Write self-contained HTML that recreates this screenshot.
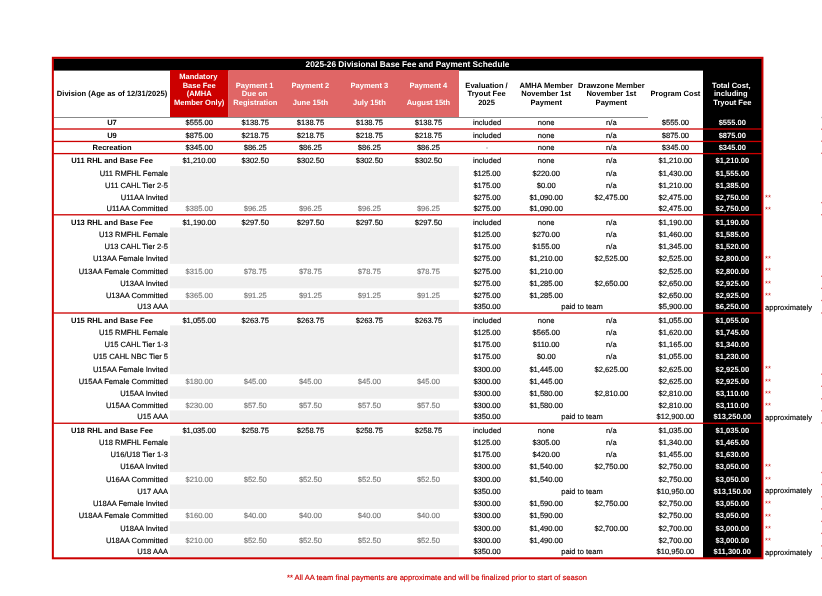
<!DOCTYPE html>
<html><head><meta charset="utf-8"><style>
html,body{margin:0;padding:0;background:#fff;}
body{width:822px;height:596px;position:relative;overflow:hidden;font-family:"Liberation Sans",sans-serif;}
.b{position:absolute;}
.t{position:absolute;white-space:nowrap;line-height:20px;height:20px;-webkit-text-stroke:0.15px currentColor;text-rendering:geometricPrecision;}
.frame{position:absolute;left:52px;top:57px;width:707px;height:498px;border:2px solid #cc0000;}
#w{position:absolute;left:0;top:0;width:822px;height:596px;will-change:transform;}
</style></head><body><div id="w">
<svg width="822" height="596" style="position:absolute;left:0;top:0">
<rect x="53" y="58.5" width="709" height="12.1" fill="#000"/>
<rect x="170" y="70" width="58.5" height="47" fill="#cc0000"/>
<rect x="228.5" y="70" width="230.5" height="47" fill="#e06666"/>
<rect x="703" y="70" width="59" height="488" fill="#000"/>
<rect x="54" y="117" width="594" height="1" fill="#888888"/>
<rect x="170" y="166.1" width="289" height="35.85" fill="#efefef"/>
<rect x="170" y="227.45" width="289" height="36.42" fill="#efefef"/>
<rect x="170" y="276.27" width="289" height="12.07" fill="#efefef"/>
<rect x="170" y="299.92" width="289" height="12.43" fill="#efefef"/>
<rect x="170" y="325.4" width="289" height="48.85" fill="#efefef"/>
<rect x="170" y="386.4" width="289" height="12.33" fill="#efefef"/>
<rect x="170" y="410.45" width="289" height="12.15" fill="#efefef"/>
<rect x="170" y="435.72" width="289" height="36.38" fill="#efefef"/>
<rect x="170" y="484.5" width="289" height="24.42" fill="#efefef"/>
<rect x="170" y="521.35" width="289" height="12.45" fill="#efefef"/>
<rect x="170" y="545.32" width="289" height="11.68" fill="#efefef"/>
<rect x="53.5" y="128.35" width="708.5" height="1.3" fill="#cc0000"/>
<rect x="53.5" y="140.8" width="708.5" height="1.3" fill="#cc0000"/>
<rect x="53.5" y="152.95" width="708.5" height="1.3" fill="#cc0000"/>
<rect x="53.5" y="214.15" width="708.5" height="1.3" fill="#cc0000"/>
<rect x="53.5" y="312.35" width="708.5" height="1.3" fill="#cc0000"/>
<rect x="53.5" y="422.6" width="708.5" height="1.3" fill="#cc0000"/>
<rect x="821" y="116.85" width="1" height="1.3" fill="#bbbbbb"/>
<rect x="821" y="128.55" width="1" height="1.3" fill="#e07070"/>
<rect x="821" y="140.55" width="1" height="1.3" fill="#e07070"/>
<rect x="821" y="152.65" width="1" height="1.3" fill="#e07070"/>
<rect x="821" y="201.95" width="1" height="1.3" fill="#e07070"/>
<rect x="821" y="214.05" width="1" height="1.3" fill="#e07070"/>
<rect x="821" y="275.65" width="1" height="1.3" fill="#e07070"/>
<rect x="821" y="287.75" width="1" height="1.3" fill="#e07070"/>
<rect x="821" y="299.85" width="1" height="1.3" fill="#e07070"/>
<rect x="821" y="312.35" width="1" height="1.3" fill="#e07070"/>
<rect x="821" y="373.55" width="1" height="1.3" fill="#e07070"/>
<rect x="821" y="385.65" width="1" height="1.3" fill="#e07070"/>
<rect x="821" y="398.15" width="1" height="1.3" fill="#e07070"/>
<rect x="821" y="410.15" width="1" height="1.3" fill="#e07070"/>
<rect x="821" y="422.25" width="1" height="1.3" fill="#e07070"/>
<rect x="821" y="471.85" width="1" height="1.3" fill="#e07070"/>
<rect x="821" y="483.85" width="1" height="1.3" fill="#e07070"/>
<rect x="821" y="496.15" width="1" height="1.3" fill="#e07070"/>
<rect x="821" y="508.25" width="1" height="1.3" fill="#e07070"/>
<rect x="821" y="520.75" width="1" height="1.3" fill="#e07070"/>
<rect x="821" y="532.75" width="1" height="1.3" fill="#e07070"/>
<rect x="821" y="545.25" width="1" height="1.3" fill="#e07070"/>
<rect x="821" y="557.55" width="1" height="1.3" fill="#e07070"/>
<rect x="52.85" y="57.8" width="709.6" height="500.5" fill="none" stroke="#cc0000" stroke-width="2"/>
</svg>
<div class="t" style="left:-188.0px;width:600px;text-align:center;top:113.23px;font-size:7.55px;font-weight:bold;color:#000;-webkit-text-stroke:0px currentColor;">U7</div>
<div class="t" style="left:-100.80000000000001px;width:600px;text-align:center;top:113.23px;font-size:7.55px;font-weight:normal;color:#000;">$555.00</div>
<div class="t" style="left:-44.75px;width:600px;text-align:center;top:113.23px;font-size:7.55px;font-weight:normal;color:#000;">$138.75</div>
<div class="t" style="left:10.449999999999989px;width:600px;text-align:center;top:113.23px;font-size:7.55px;font-weight:normal;color:#000;">$138.75</div>
<div class="t" style="left:69.39999999999998px;width:600px;text-align:center;top:113.23px;font-size:7.55px;font-weight:normal;color:#000;">$138.75</div>
<div class="t" style="left:128.45px;width:600px;text-align:center;top:113.23px;font-size:7.55px;font-weight:normal;color:#000;">$138.75</div>
<div class="t" style="left:187.05px;width:600px;text-align:center;top:113.23px;font-size:7.55px;font-weight:normal;color:#000;">included</div>
<div class="t" style="left:246.20000000000005px;width:600px;text-align:center;top:113.23px;font-size:7.55px;font-weight:normal;color:#000;">none</div>
<div class="t" style="left:311.35px;width:600px;text-align:center;top:113.23px;font-size:7.55px;font-weight:normal;color:#000;">n/a</div>
<div class="t" style="left:375.4px;width:600px;text-align:center;top:113.23px;font-size:7.55px;font-weight:normal;color:#000;">$555.00</div>
<div class="t" style="left:432.29999999999995px;width:600px;text-align:center;top:113.23px;font-size:7.55px;font-weight:bold;color:#fff;-webkit-text-stroke:0px currentColor;">$555.00</div>
<div class="t" style="left:-188.0px;width:600px;text-align:center;top:125.83px;font-size:7.55px;font-weight:bold;color:#000;-webkit-text-stroke:0px currentColor;">U9</div>
<div class="t" style="left:-100.80000000000001px;width:600px;text-align:center;top:125.83px;font-size:7.55px;font-weight:normal;color:#000;">$875.00</div>
<div class="t" style="left:-44.75px;width:600px;text-align:center;top:125.83px;font-size:7.55px;font-weight:normal;color:#000;">$218.75</div>
<div class="t" style="left:10.449999999999989px;width:600px;text-align:center;top:125.83px;font-size:7.55px;font-weight:normal;color:#000;">$218.75</div>
<div class="t" style="left:69.39999999999998px;width:600px;text-align:center;top:125.83px;font-size:7.55px;font-weight:normal;color:#000;">$218.75</div>
<div class="t" style="left:128.45px;width:600px;text-align:center;top:125.83px;font-size:7.55px;font-weight:normal;color:#000;">$218.75</div>
<div class="t" style="left:187.05px;width:600px;text-align:center;top:125.83px;font-size:7.55px;font-weight:normal;color:#000;">included</div>
<div class="t" style="left:246.20000000000005px;width:600px;text-align:center;top:125.83px;font-size:7.55px;font-weight:normal;color:#000;">none</div>
<div class="t" style="left:311.35px;width:600px;text-align:center;top:125.83px;font-size:7.55px;font-weight:normal;color:#000;">n/a</div>
<div class="t" style="left:375.4px;width:600px;text-align:center;top:125.83px;font-size:7.55px;font-weight:normal;color:#000;">$875.00</div>
<div class="t" style="left:432.29999999999995px;width:600px;text-align:center;top:125.83px;font-size:7.55px;font-weight:bold;color:#fff;-webkit-text-stroke:0px currentColor;">$875.00</div>
<div class="t" style="left:-188.0px;width:600px;text-align:center;top:137.78px;font-size:7.55px;font-weight:bold;color:#000;-webkit-text-stroke:0px currentColor;">Recreation</div>
<div class="t" style="left:-100.80000000000001px;width:600px;text-align:center;top:137.78px;font-size:7.55px;font-weight:normal;color:#000;">$345.00</div>
<div class="t" style="left:-44.75px;width:600px;text-align:center;top:137.78px;font-size:7.55px;font-weight:normal;color:#000;">$86.25</div>
<div class="t" style="left:10.449999999999989px;width:600px;text-align:center;top:137.78px;font-size:7.55px;font-weight:normal;color:#000;">$86.25</div>
<div class="t" style="left:69.39999999999998px;width:600px;text-align:center;top:137.78px;font-size:7.55px;font-weight:normal;color:#000;">$86.25</div>
<div class="t" style="left:128.45px;width:600px;text-align:center;top:137.78px;font-size:7.55px;font-weight:normal;color:#000;">$86.25</div>
<div class="t" style="left:187.05px;width:600px;text-align:center;top:137.78px;font-size:7.55px;font-weight:normal;color:#777777;">-</div>
<div class="t" style="left:246.20000000000005px;width:600px;text-align:center;top:137.78px;font-size:7.55px;font-weight:normal;color:#000;">none</div>
<div class="t" style="left:311.35px;width:600px;text-align:center;top:137.78px;font-size:7.55px;font-weight:normal;color:#000;">n/a</div>
<div class="t" style="left:375.4px;width:600px;text-align:center;top:137.78px;font-size:7.55px;font-weight:normal;color:#000;">$345.00</div>
<div class="t" style="left:432.29999999999995px;width:600px;text-align:center;top:137.78px;font-size:7.55px;font-weight:bold;color:#fff;-webkit-text-stroke:0px currentColor;">$345.00</div>
<div class="t" style="left:-188.0px;width:600px;text-align:center;top:151.18px;font-size:7.55px;font-weight:bold;color:#000;-webkit-text-stroke:0px currentColor;">U11 RHL and Base Fee</div>
<div class="t" style="left:-100.80000000000001px;width:600px;text-align:center;top:151.18px;font-size:7.55px;font-weight:normal;color:#000;">$1,210.00</div>
<div class="t" style="left:-44.75px;width:600px;text-align:center;top:151.18px;font-size:7.55px;font-weight:normal;color:#000;">$302.50</div>
<div class="t" style="left:10.449999999999989px;width:600px;text-align:center;top:151.18px;font-size:7.55px;font-weight:normal;color:#000;">$302.50</div>
<div class="t" style="left:69.39999999999998px;width:600px;text-align:center;top:151.18px;font-size:7.55px;font-weight:normal;color:#000;">$302.50</div>
<div class="t" style="left:128.45px;width:600px;text-align:center;top:151.18px;font-size:7.55px;font-weight:normal;color:#000;">$302.50</div>
<div class="t" style="left:187.05px;width:600px;text-align:center;top:151.18px;font-size:7.55px;font-weight:normal;color:#000;">included</div>
<div class="t" style="left:246.20000000000005px;width:600px;text-align:center;top:151.18px;font-size:7.55px;font-weight:normal;color:#000;">none</div>
<div class="t" style="left:311.35px;width:600px;text-align:center;top:151.18px;font-size:7.55px;font-weight:normal;color:#000;">n/a</div>
<div class="t" style="left:375.4px;width:600px;text-align:center;top:151.18px;font-size:7.55px;font-weight:normal;color:#000;">$1,210.00</div>
<div class="t" style="left:432.29999999999995px;width:600px;text-align:center;top:151.18px;font-size:7.55px;font-weight:bold;color:#fff;-webkit-text-stroke:0px currentColor;">$1,210.00</div>
<div class="t" style="left:-132px;width:300px;text-align:right;top:163.78px;font-size:7.55px;font-weight:normal;color:#000;">U11 RMFHL Female</div>
<div class="t" style="left:187.05px;width:600px;text-align:center;top:163.78px;font-size:7.55px;font-weight:normal;color:#000;">$125.00</div>
<div class="t" style="left:246.20000000000005px;width:600px;text-align:center;top:163.78px;font-size:7.55px;font-weight:normal;color:#000;">$220.00</div>
<div class="t" style="left:311.35px;width:600px;text-align:center;top:163.78px;font-size:7.55px;font-weight:normal;color:#000;">n/a</div>
<div class="t" style="left:375.4px;width:600px;text-align:center;top:163.78px;font-size:7.55px;font-weight:normal;color:#000;">$1,430.00</div>
<div class="t" style="left:432.29999999999995px;width:600px;text-align:center;top:163.78px;font-size:7.55px;font-weight:bold;color:#fff;-webkit-text-stroke:0px currentColor;">$1,555.00</div>
<div class="t" style="left:-132px;width:300px;text-align:right;top:175.78px;font-size:7.55px;font-weight:normal;color:#000;">U11 CAHL Tier 2-5</div>
<div class="t" style="left:187.05px;width:600px;text-align:center;top:175.78px;font-size:7.55px;font-weight:normal;color:#000;">$175.00</div>
<div class="t" style="left:246.20000000000005px;width:600px;text-align:center;top:175.78px;font-size:7.55px;font-weight:normal;color:#000;">$0.00</div>
<div class="t" style="left:311.35px;width:600px;text-align:center;top:175.78px;font-size:7.55px;font-weight:normal;color:#000;">n/a</div>
<div class="t" style="left:375.4px;width:600px;text-align:center;top:175.78px;font-size:7.55px;font-weight:normal;color:#000;">$1,210.00</div>
<div class="t" style="left:432.29999999999995px;width:600px;text-align:center;top:175.78px;font-size:7.55px;font-weight:bold;color:#fff;-webkit-text-stroke:0px currentColor;">$1,385.00</div>
<div class="t" style="left:-132px;width:300px;text-align:right;top:187.83px;font-size:7.55px;font-weight:normal;color:#000;">U11AA Invited</div>
<div class="t" style="left:187.05px;width:600px;text-align:center;top:187.83px;font-size:7.55px;font-weight:normal;color:#000;">$275.00</div>
<div class="t" style="left:246.20000000000005px;width:600px;text-align:center;top:187.83px;font-size:7.55px;font-weight:normal;color:#000;">$1,090.00</div>
<div class="t" style="left:311.35px;width:600px;text-align:center;top:187.83px;font-size:7.55px;font-weight:normal;color:#000;">$2,475.00</div>
<div class="t" style="left:375.4px;width:600px;text-align:center;top:187.83px;font-size:7.55px;font-weight:normal;color:#000;">$2,475.00</div>
<div class="t" style="left:432.29999999999995px;width:600px;text-align:center;top:187.83px;font-size:7.55px;font-weight:bold;color:#fff;-webkit-text-stroke:0px currentColor;">$2,750.00</div>
<div class="t" style="left:765px;top:187.58px;font-size:7.55px;font-weight:normal;color:#cc0000;-webkit-text-stroke:0;">**</div>
<div class="t" style="left:-132px;width:300px;text-align:right;top:198.83px;font-size:7.55px;font-weight:normal;color:#000;">U11AA Committed</div>
<div class="t" style="left:-100.80000000000001px;width:600px;text-align:center;top:198.83px;font-size:7.55px;font-weight:normal;color:#777777;">$385.00</div>
<div class="t" style="left:-44.75px;width:600px;text-align:center;top:198.83px;font-size:7.55px;font-weight:normal;color:#777777;">$96.25</div>
<div class="t" style="left:10.449999999999989px;width:600px;text-align:center;top:198.83px;font-size:7.55px;font-weight:normal;color:#777777;">$96.25</div>
<div class="t" style="left:69.39999999999998px;width:600px;text-align:center;top:198.83px;font-size:7.55px;font-weight:normal;color:#777777;">$96.25</div>
<div class="t" style="left:128.45px;width:600px;text-align:center;top:198.83px;font-size:7.55px;font-weight:normal;color:#777777;">$96.25</div>
<div class="t" style="left:187.05px;width:600px;text-align:center;top:198.83px;font-size:7.55px;font-weight:normal;color:#000;">$275.00</div>
<div class="t" style="left:246.20000000000005px;width:600px;text-align:center;top:198.83px;font-size:7.55px;font-weight:normal;color:#000;">$1,090.00</div>
<div class="t" style="left:375.4px;width:600px;text-align:center;top:198.83px;font-size:7.55px;font-weight:normal;color:#000;">$2,475.00</div>
<div class="t" style="left:432.29999999999995px;width:600px;text-align:center;top:198.83px;font-size:7.55px;font-weight:bold;color:#fff;-webkit-text-stroke:0px currentColor;">$2,750.00</div>
<div class="t" style="left:765px;top:200.38px;font-size:7.55px;font-weight:normal;color:#cc0000;-webkit-text-stroke:0;">**</div>
<div class="t" style="left:-188.0px;width:600px;text-align:center;top:212.83px;font-size:7.55px;font-weight:bold;color:#000;-webkit-text-stroke:0px currentColor;">U13 RHL and Base Fee</div>
<div class="t" style="left:-100.80000000000001px;width:600px;text-align:center;top:212.83px;font-size:7.55px;font-weight:normal;color:#000;">$1,190.00</div>
<div class="t" style="left:-44.75px;width:600px;text-align:center;top:212.83px;font-size:7.55px;font-weight:normal;color:#000;">$297.50</div>
<div class="t" style="left:10.449999999999989px;width:600px;text-align:center;top:212.83px;font-size:7.55px;font-weight:normal;color:#000;">$297.50</div>
<div class="t" style="left:69.39999999999998px;width:600px;text-align:center;top:212.83px;font-size:7.55px;font-weight:normal;color:#000;">$297.50</div>
<div class="t" style="left:128.45px;width:600px;text-align:center;top:212.83px;font-size:7.55px;font-weight:normal;color:#000;">$297.50</div>
<div class="t" style="left:187.05px;width:600px;text-align:center;top:212.83px;font-size:7.55px;font-weight:normal;color:#000;">included</div>
<div class="t" style="left:246.20000000000005px;width:600px;text-align:center;top:212.83px;font-size:7.55px;font-weight:normal;color:#000;">none</div>
<div class="t" style="left:311.35px;width:600px;text-align:center;top:212.83px;font-size:7.55px;font-weight:normal;color:#000;">n/a</div>
<div class="t" style="left:375.4px;width:600px;text-align:center;top:212.83px;font-size:7.55px;font-weight:normal;color:#000;">$1,190.00</div>
<div class="t" style="left:432.29999999999995px;width:600px;text-align:center;top:212.83px;font-size:7.55px;font-weight:bold;color:#fff;-webkit-text-stroke:0px currentColor;">$1,190.00</div>
<div class="t" style="left:-132px;width:300px;text-align:right;top:224.83px;font-size:7.55px;font-weight:normal;color:#000;">U13 RMFHL Female</div>
<div class="t" style="left:187.05px;width:600px;text-align:center;top:224.83px;font-size:7.55px;font-weight:normal;color:#000;">$125.00</div>
<div class="t" style="left:246.20000000000005px;width:600px;text-align:center;top:224.83px;font-size:7.55px;font-weight:normal;color:#000;">$270.00</div>
<div class="t" style="left:311.35px;width:600px;text-align:center;top:224.83px;font-size:7.55px;font-weight:normal;color:#000;">n/a</div>
<div class="t" style="left:375.4px;width:600px;text-align:center;top:224.83px;font-size:7.55px;font-weight:normal;color:#000;">$1,460.00</div>
<div class="t" style="left:432.29999999999995px;width:600px;text-align:center;top:224.83px;font-size:7.55px;font-weight:bold;color:#fff;-webkit-text-stroke:0px currentColor;">$1,585.00</div>
<div class="t" style="left:-132px;width:300px;text-align:right;top:236.78px;font-size:7.55px;font-weight:normal;color:#000;">U13 CAHL Tier 2-5</div>
<div class="t" style="left:187.05px;width:600px;text-align:center;top:236.78px;font-size:7.55px;font-weight:normal;color:#000;">$175.00</div>
<div class="t" style="left:246.20000000000005px;width:600px;text-align:center;top:236.78px;font-size:7.55px;font-weight:normal;color:#000;">$155.00</div>
<div class="t" style="left:311.35px;width:600px;text-align:center;top:236.78px;font-size:7.55px;font-weight:normal;color:#000;">n/a</div>
<div class="t" style="left:375.4px;width:600px;text-align:center;top:236.78px;font-size:7.55px;font-weight:normal;color:#000;">$1,345.00</div>
<div class="t" style="left:432.29999999999995px;width:600px;text-align:center;top:236.78px;font-size:7.55px;font-weight:bold;color:#fff;-webkit-text-stroke:0px currentColor;">$1,520.00</div>
<div class="t" style="left:-132px;width:300px;text-align:right;top:248.88px;font-size:7.55px;font-weight:normal;color:#000;">U13AA Female Invited</div>
<div class="t" style="left:187.05px;width:600px;text-align:center;top:248.88px;font-size:7.55px;font-weight:normal;color:#000;">$275.00</div>
<div class="t" style="left:246.20000000000005px;width:600px;text-align:center;top:248.88px;font-size:7.55px;font-weight:normal;color:#000;">$1,210.00</div>
<div class="t" style="left:311.35px;width:600px;text-align:center;top:248.88px;font-size:7.55px;font-weight:normal;color:#000;">$2,525.00</div>
<div class="t" style="left:375.4px;width:600px;text-align:center;top:248.88px;font-size:7.55px;font-weight:normal;color:#000;">$2,525.00</div>
<div class="t" style="left:432.29999999999995px;width:600px;text-align:center;top:248.88px;font-size:7.55px;font-weight:bold;color:#fff;-webkit-text-stroke:0px currentColor;">$2,800.00</div>
<div class="t" style="left:765px;top:249.28px;font-size:7.55px;font-weight:normal;color:#cc0000;-webkit-text-stroke:0;">**</div>
<div class="t" style="left:-132px;width:300px;text-align:right;top:261.63px;font-size:7.55px;font-weight:normal;color:#000;">U13AA Female Committed</div>
<div class="t" style="left:-100.80000000000001px;width:600px;text-align:center;top:261.63px;font-size:7.55px;font-weight:normal;color:#777777;">$315.00</div>
<div class="t" style="left:-44.75px;width:600px;text-align:center;top:261.63px;font-size:7.55px;font-weight:normal;color:#777777;">$78.75</div>
<div class="t" style="left:10.449999999999989px;width:600px;text-align:center;top:261.63px;font-size:7.55px;font-weight:normal;color:#777777;">$78.75</div>
<div class="t" style="left:69.39999999999998px;width:600px;text-align:center;top:261.63px;font-size:7.55px;font-weight:normal;color:#777777;">$78.75</div>
<div class="t" style="left:128.45px;width:600px;text-align:center;top:261.63px;font-size:7.55px;font-weight:normal;color:#777777;">$78.75</div>
<div class="t" style="left:187.05px;width:600px;text-align:center;top:261.63px;font-size:7.55px;font-weight:normal;color:#000;">$275.00</div>
<div class="t" style="left:246.20000000000005px;width:600px;text-align:center;top:261.63px;font-size:7.55px;font-weight:normal;color:#000;">$1,210.00</div>
<div class="t" style="left:375.4px;width:600px;text-align:center;top:261.63px;font-size:7.55px;font-weight:normal;color:#000;">$2,525.00</div>
<div class="t" style="left:432.29999999999995px;width:600px;text-align:center;top:261.63px;font-size:7.55px;font-weight:bold;color:#fff;-webkit-text-stroke:0px currentColor;">$2,800.00</div>
<div class="t" style="left:765px;top:261.38px;font-size:7.55px;font-weight:normal;color:#cc0000;-webkit-text-stroke:0;">**</div>
<div class="t" style="left:-132px;width:300px;text-align:right;top:273.68px;font-size:7.55px;font-weight:normal;color:#000;">U13AA Invited</div>
<div class="t" style="left:187.05px;width:600px;text-align:center;top:273.68px;font-size:7.55px;font-weight:normal;color:#000;">$275.00</div>
<div class="t" style="left:246.20000000000005px;width:600px;text-align:center;top:273.68px;font-size:7.55px;font-weight:normal;color:#000;">$1,285.00</div>
<div class="t" style="left:311.35px;width:600px;text-align:center;top:273.68px;font-size:7.55px;font-weight:normal;color:#000;">$2,650.00</div>
<div class="t" style="left:375.4px;width:600px;text-align:center;top:273.68px;font-size:7.55px;font-weight:normal;color:#000;">$2,650.00</div>
<div class="t" style="left:432.29999999999995px;width:600px;text-align:center;top:273.68px;font-size:7.55px;font-weight:bold;color:#fff;-webkit-text-stroke:0px currentColor;">$2,925.00</div>
<div class="t" style="left:765px;top:273.68px;font-size:7.55px;font-weight:normal;color:#cc0000;-webkit-text-stroke:0;">**</div>
<div class="t" style="left:-132px;width:300px;text-align:right;top:285.78px;font-size:7.55px;font-weight:normal;color:#000;">U13AA Committed</div>
<div class="t" style="left:-100.80000000000001px;width:600px;text-align:center;top:285.78px;font-size:7.55px;font-weight:normal;color:#777777;">$365.00</div>
<div class="t" style="left:-44.75px;width:600px;text-align:center;top:285.78px;font-size:7.55px;font-weight:normal;color:#777777;">$91.25</div>
<div class="t" style="left:10.449999999999989px;width:600px;text-align:center;top:285.78px;font-size:7.55px;font-weight:normal;color:#777777;">$91.25</div>
<div class="t" style="left:69.39999999999998px;width:600px;text-align:center;top:285.78px;font-size:7.55px;font-weight:normal;color:#777777;">$91.25</div>
<div class="t" style="left:128.45px;width:600px;text-align:center;top:285.78px;font-size:7.55px;font-weight:normal;color:#777777;">$91.25</div>
<div class="t" style="left:187.05px;width:600px;text-align:center;top:285.78px;font-size:7.55px;font-weight:normal;color:#000;">$275.00</div>
<div class="t" style="left:246.20000000000005px;width:600px;text-align:center;top:285.78px;font-size:7.55px;font-weight:normal;color:#000;">$1,285.00</div>
<div class="t" style="left:375.4px;width:600px;text-align:center;top:285.78px;font-size:7.55px;font-weight:normal;color:#000;">$2,650.00</div>
<div class="t" style="left:432.29999999999995px;width:600px;text-align:center;top:285.78px;font-size:7.55px;font-weight:bold;color:#fff;-webkit-text-stroke:0px currentColor;">$2,925.00</div>
<div class="t" style="left:765px;top:286.18px;font-size:7.55px;font-weight:normal;color:#cc0000;-webkit-text-stroke:0;">**</div>
<div class="t" style="left:-132px;width:300px;text-align:right;top:296.83px;font-size:7.55px;font-weight:normal;color:#000;">U13 AAA</div>
<div class="t" style="left:187.05px;width:600px;text-align:center;top:296.83px;font-size:7.55px;font-weight:normal;color:#000;">$350.00</div>
<div class="t" style="left:282px;width:600px;text-align:center;top:296.83px;font-size:7.55px;font-weight:normal;color:#000;">paid to team</div>
<div class="t" style="left:375.4px;width:600px;text-align:center;top:296.83px;font-size:7.55px;font-weight:normal;color:#000;">$5,900.00</div>
<div class="t" style="left:432.29999999999995px;width:600px;text-align:center;top:296.83px;font-size:7.55px;font-weight:bold;color:#fff;-webkit-text-stroke:0px currentColor;">$6,250.00</div>
<div class="t" style="left:765px;top:297.88px;font-size:7.55px;font-weight:normal;color:#000;">approximately</div>
<div class="t" style="left:-188.0px;width:600px;text-align:center;top:310.88px;font-size:7.55px;font-weight:bold;color:#000;-webkit-text-stroke:0px currentColor;">U15 RHL and Base Fee</div>
<div class="t" style="left:-100.80000000000001px;width:600px;text-align:center;top:310.88px;font-size:7.55px;font-weight:normal;color:#000;">$1,055.00</div>
<div class="t" style="left:-44.75px;width:600px;text-align:center;top:310.88px;font-size:7.55px;font-weight:normal;color:#000;">$263.75</div>
<div class="t" style="left:10.449999999999989px;width:600px;text-align:center;top:310.88px;font-size:7.55px;font-weight:normal;color:#000;">$263.75</div>
<div class="t" style="left:69.39999999999998px;width:600px;text-align:center;top:310.88px;font-size:7.55px;font-weight:normal;color:#000;">$263.75</div>
<div class="t" style="left:128.45px;width:600px;text-align:center;top:310.88px;font-size:7.55px;font-weight:normal;color:#000;">$263.75</div>
<div class="t" style="left:187.05px;width:600px;text-align:center;top:310.88px;font-size:7.55px;font-weight:normal;color:#000;">included</div>
<div class="t" style="left:246.20000000000005px;width:600px;text-align:center;top:310.88px;font-size:7.55px;font-weight:normal;color:#000;">none</div>
<div class="t" style="left:311.35px;width:600px;text-align:center;top:310.88px;font-size:7.55px;font-weight:normal;color:#000;">n/a</div>
<div class="t" style="left:375.4px;width:600px;text-align:center;top:310.88px;font-size:7.55px;font-weight:normal;color:#000;">$1,055.00</div>
<div class="t" style="left:432.29999999999995px;width:600px;text-align:center;top:310.88px;font-size:7.55px;font-weight:bold;color:#fff;-webkit-text-stroke:0px currentColor;">$1,055.00</div>
<div class="t" style="left:-132px;width:300px;text-align:right;top:322.68px;font-size:7.55px;font-weight:normal;color:#000;">U15 RMFHL Female</div>
<div class="t" style="left:187.05px;width:600px;text-align:center;top:322.68px;font-size:7.55px;font-weight:normal;color:#000;">$125.00</div>
<div class="t" style="left:246.20000000000005px;width:600px;text-align:center;top:322.68px;font-size:7.55px;font-weight:normal;color:#000;">$565.00</div>
<div class="t" style="left:311.35px;width:600px;text-align:center;top:322.68px;font-size:7.55px;font-weight:normal;color:#000;">n/a</div>
<div class="t" style="left:375.4px;width:600px;text-align:center;top:322.68px;font-size:7.55px;font-weight:normal;color:#000;">$1,620.00</div>
<div class="t" style="left:432.29999999999995px;width:600px;text-align:center;top:322.68px;font-size:7.55px;font-weight:bold;color:#fff;-webkit-text-stroke:0px currentColor;">$1,745.00</div>
<div class="t" style="left:-132px;width:300px;text-align:right;top:334.78px;font-size:7.55px;font-weight:normal;color:#000;">U15 CAHL Tier 1-3</div>
<div class="t" style="left:187.05px;width:600px;text-align:center;top:334.78px;font-size:7.55px;font-weight:normal;color:#000;">$175.00</div>
<div class="t" style="left:246.20000000000005px;width:600px;text-align:center;top:334.78px;font-size:7.55px;font-weight:normal;color:#000;">$110.00</div>
<div class="t" style="left:311.35px;width:600px;text-align:center;top:334.78px;font-size:7.55px;font-weight:normal;color:#000;">n/a</div>
<div class="t" style="left:375.4px;width:600px;text-align:center;top:334.78px;font-size:7.55px;font-weight:normal;color:#000;">$1,165.00</div>
<div class="t" style="left:432.29999999999995px;width:600px;text-align:center;top:334.78px;font-size:7.55px;font-weight:bold;color:#fff;-webkit-text-stroke:0px currentColor;">$1,340.00</div>
<div class="t" style="left:-132px;width:300px;text-align:right;top:347.33px;font-size:7.55px;font-weight:normal;color:#000;">U15 CAHL NBC Tier 5</div>
<div class="t" style="left:187.05px;width:600px;text-align:center;top:347.33px;font-size:7.55px;font-weight:normal;color:#000;">$175.00</div>
<div class="t" style="left:246.20000000000005px;width:600px;text-align:center;top:347.33px;font-size:7.55px;font-weight:normal;color:#000;">$0.00</div>
<div class="t" style="left:311.35px;width:600px;text-align:center;top:347.33px;font-size:7.55px;font-weight:normal;color:#000;">n/a</div>
<div class="t" style="left:375.4px;width:600px;text-align:center;top:347.33px;font-size:7.55px;font-weight:normal;color:#000;">$1,055.00</div>
<div class="t" style="left:432.29999999999995px;width:600px;text-align:center;top:347.33px;font-size:7.55px;font-weight:bold;color:#fff;-webkit-text-stroke:0px currentColor;">$1,230.00</div>
<div class="t" style="left:-132px;width:300px;text-align:right;top:359.58px;font-size:7.55px;font-weight:normal;color:#000;">U15AA Female Invited</div>
<div class="t" style="left:187.05px;width:600px;text-align:center;top:359.58px;font-size:7.55px;font-weight:normal;color:#000;">$300.00</div>
<div class="t" style="left:246.20000000000005px;width:600px;text-align:center;top:359.58px;font-size:7.55px;font-weight:normal;color:#000;">$1,445.00</div>
<div class="t" style="left:311.35px;width:600px;text-align:center;top:359.58px;font-size:7.55px;font-weight:normal;color:#000;">$2,625.00</div>
<div class="t" style="left:375.4px;width:600px;text-align:center;top:359.58px;font-size:7.55px;font-weight:normal;color:#000;">$2,625.00</div>
<div class="t" style="left:432.29999999999995px;width:600px;text-align:center;top:359.58px;font-size:7.55px;font-weight:bold;color:#fff;-webkit-text-stroke:0px currentColor;">$2,925.00</div>
<div class="t" style="left:765px;top:359.28px;font-size:7.55px;font-weight:normal;color:#cc0000;-webkit-text-stroke:0;">**</div>
<div class="t" style="left:-132px;width:300px;text-align:right;top:371.68px;font-size:7.55px;font-weight:normal;color:#000;">U15AA Female Committed</div>
<div class="t" style="left:-100.80000000000001px;width:600px;text-align:center;top:371.68px;font-size:7.55px;font-weight:normal;color:#777777;">$180.00</div>
<div class="t" style="left:-44.75px;width:600px;text-align:center;top:371.68px;font-size:7.55px;font-weight:normal;color:#777777;">$45.00</div>
<div class="t" style="left:10.449999999999989px;width:600px;text-align:center;top:371.68px;font-size:7.55px;font-weight:normal;color:#777777;">$45.00</div>
<div class="t" style="left:69.39999999999998px;width:600px;text-align:center;top:371.68px;font-size:7.55px;font-weight:normal;color:#777777;">$45.00</div>
<div class="t" style="left:128.45px;width:600px;text-align:center;top:371.68px;font-size:7.55px;font-weight:normal;color:#777777;">$45.00</div>
<div class="t" style="left:187.05px;width:600px;text-align:center;top:371.68px;font-size:7.55px;font-weight:normal;color:#000;">$300.00</div>
<div class="t" style="left:246.20000000000005px;width:600px;text-align:center;top:371.68px;font-size:7.55px;font-weight:normal;color:#000;">$1,445.00</div>
<div class="t" style="left:375.4px;width:600px;text-align:center;top:371.68px;font-size:7.55px;font-weight:normal;color:#000;">$2,625.00</div>
<div class="t" style="left:432.29999999999995px;width:600px;text-align:center;top:371.68px;font-size:7.55px;font-weight:bold;color:#fff;-webkit-text-stroke:0px currentColor;">$2,925.00</div>
<div class="t" style="left:765px;top:371.88px;font-size:7.55px;font-weight:normal;color:#cc0000;-webkit-text-stroke:0;">**</div>
<div class="t" style="left:-132px;width:300px;text-align:right;top:383.88px;font-size:7.55px;font-weight:normal;color:#000;">U15AA Invited</div>
<div class="t" style="left:187.05px;width:600px;text-align:center;top:383.88px;font-size:7.55px;font-weight:normal;color:#000;">$300.00</div>
<div class="t" style="left:246.20000000000005px;width:600px;text-align:center;top:383.88px;font-size:7.55px;font-weight:normal;color:#000;">$1,580.00</div>
<div class="t" style="left:311.35px;width:600px;text-align:center;top:383.88px;font-size:7.55px;font-weight:normal;color:#000;">$2,810.00</div>
<div class="t" style="left:375.4px;width:600px;text-align:center;top:383.88px;font-size:7.55px;font-weight:normal;color:#000;">$2,810.00</div>
<div class="t" style="left:432.29999999999995px;width:600px;text-align:center;top:383.88px;font-size:7.55px;font-weight:bold;color:#fff;-webkit-text-stroke:0px currentColor;">$3,110.00</div>
<div class="t" style="left:765px;top:384.18px;font-size:7.55px;font-weight:normal;color:#cc0000;-webkit-text-stroke:0;">**</div>
<div class="t" style="left:-132px;width:300px;text-align:right;top:396.33px;font-size:7.55px;font-weight:normal;color:#000;">U15AA Committed</div>
<div class="t" style="left:-100.80000000000001px;width:600px;text-align:center;top:396.33px;font-size:7.55px;font-weight:normal;color:#777777;">$230.00</div>
<div class="t" style="left:-44.75px;width:600px;text-align:center;top:396.33px;font-size:7.55px;font-weight:normal;color:#777777;">$57.50</div>
<div class="t" style="left:10.449999999999989px;width:600px;text-align:center;top:396.33px;font-size:7.55px;font-weight:normal;color:#777777;">$57.50</div>
<div class="t" style="left:69.39999999999998px;width:600px;text-align:center;top:396.33px;font-size:7.55px;font-weight:normal;color:#777777;">$57.50</div>
<div class="t" style="left:128.45px;width:600px;text-align:center;top:396.33px;font-size:7.55px;font-weight:normal;color:#777777;">$57.50</div>
<div class="t" style="left:187.05px;width:600px;text-align:center;top:396.33px;font-size:7.55px;font-weight:normal;color:#000;">$300.00</div>
<div class="t" style="left:246.20000000000005px;width:600px;text-align:center;top:396.33px;font-size:7.55px;font-weight:normal;color:#000;">$1,580.00</div>
<div class="t" style="left:375.4px;width:600px;text-align:center;top:396.33px;font-size:7.55px;font-weight:normal;color:#000;">$2,810.00</div>
<div class="t" style="left:432.29999999999995px;width:600px;text-align:center;top:396.33px;font-size:7.55px;font-weight:bold;color:#fff;-webkit-text-stroke:0px currentColor;">$3,110.00</div>
<div class="t" style="left:765px;top:396.18px;font-size:7.55px;font-weight:normal;color:#cc0000;-webkit-text-stroke:0;">**</div>
<div class="t" style="left:-132px;width:300px;text-align:right;top:407.33px;font-size:7.55px;font-weight:normal;color:#000;">U15 AAA</div>
<div class="t" style="left:187.05px;width:600px;text-align:center;top:407.33px;font-size:7.55px;font-weight:normal;color:#000;">$350.00</div>
<div class="t" style="left:282px;width:600px;text-align:center;top:407.33px;font-size:7.55px;font-weight:normal;color:#000;">paid to team</div>
<div class="t" style="left:375.4px;width:600px;text-align:center;top:407.33px;font-size:7.55px;font-weight:normal;color:#000;">$12,900.00</div>
<div class="t" style="left:432.29999999999995px;width:600px;text-align:center;top:407.33px;font-size:7.55px;font-weight:bold;color:#fff;-webkit-text-stroke:0px currentColor;">$13,250.00</div>
<div class="t" style="left:765px;top:407.88px;font-size:7.55px;font-weight:normal;color:#000;">approximately</div>
<div class="t" style="left:-188.0px;width:600px;text-align:center;top:420.98px;font-size:7.55px;font-weight:bold;color:#000;-webkit-text-stroke:0px currentColor;">U18 RHL and Base Fee</div>
<div class="t" style="left:-100.80000000000001px;width:600px;text-align:center;top:420.98px;font-size:7.55px;font-weight:normal;color:#000;">$1,035.00</div>
<div class="t" style="left:-44.75px;width:600px;text-align:center;top:420.98px;font-size:7.55px;font-weight:normal;color:#000;">$258.75</div>
<div class="t" style="left:10.449999999999989px;width:600px;text-align:center;top:420.98px;font-size:7.55px;font-weight:normal;color:#000;">$258.75</div>
<div class="t" style="left:69.39999999999998px;width:600px;text-align:center;top:420.98px;font-size:7.55px;font-weight:normal;color:#000;">$258.75</div>
<div class="t" style="left:128.45px;width:600px;text-align:center;top:420.98px;font-size:7.55px;font-weight:normal;color:#000;">$258.75</div>
<div class="t" style="left:187.05px;width:600px;text-align:center;top:420.98px;font-size:7.55px;font-weight:normal;color:#000;">included</div>
<div class="t" style="left:246.20000000000005px;width:600px;text-align:center;top:420.98px;font-size:7.55px;font-weight:normal;color:#000;">none</div>
<div class="t" style="left:311.35px;width:600px;text-align:center;top:420.98px;font-size:7.55px;font-weight:normal;color:#000;">n/a</div>
<div class="t" style="left:375.4px;width:600px;text-align:center;top:420.98px;font-size:7.55px;font-weight:normal;color:#000;">$1,035.00</div>
<div class="t" style="left:432.29999999999995px;width:600px;text-align:center;top:420.98px;font-size:7.55px;font-weight:bold;color:#fff;-webkit-text-stroke:0px currentColor;">$1,035.00</div>
<div class="t" style="left:-132px;width:300px;text-align:right;top:433.23px;font-size:7.55px;font-weight:normal;color:#000;">U18 RMFHL Female</div>
<div class="t" style="left:187.05px;width:600px;text-align:center;top:433.23px;font-size:7.55px;font-weight:normal;color:#000;">$125.00</div>
<div class="t" style="left:246.20000000000005px;width:600px;text-align:center;top:433.23px;font-size:7.55px;font-weight:normal;color:#000;">$305.00</div>
<div class="t" style="left:311.35px;width:600px;text-align:center;top:433.23px;font-size:7.55px;font-weight:normal;color:#000;">n/a</div>
<div class="t" style="left:375.4px;width:600px;text-align:center;top:433.23px;font-size:7.55px;font-weight:normal;color:#000;">$1,340.00</div>
<div class="t" style="left:432.29999999999995px;width:600px;text-align:center;top:433.23px;font-size:7.55px;font-weight:bold;color:#fff;-webkit-text-stroke:0px currentColor;">$1,465.00</div>
<div class="t" style="left:-132px;width:300px;text-align:right;top:445.33px;font-size:7.55px;font-weight:normal;color:#000;">U16/U18 Tier 1-3</div>
<div class="t" style="left:187.05px;width:600px;text-align:center;top:445.33px;font-size:7.55px;font-weight:normal;color:#000;">$175.00</div>
<div class="t" style="left:246.20000000000005px;width:600px;text-align:center;top:445.33px;font-size:7.55px;font-weight:normal;color:#000;">$420.00</div>
<div class="t" style="left:311.35px;width:600px;text-align:center;top:445.33px;font-size:7.55px;font-weight:normal;color:#000;">n/a</div>
<div class="t" style="left:375.4px;width:600px;text-align:center;top:445.33px;font-size:7.55px;font-weight:normal;color:#000;">$1,455.00</div>
<div class="t" style="left:432.29999999999995px;width:600px;text-align:center;top:445.33px;font-size:7.55px;font-weight:bold;color:#fff;-webkit-text-stroke:0px currentColor;">$1,630.00</div>
<div class="t" style="left:-132px;width:300px;text-align:right;top:457.38px;font-size:7.55px;font-weight:normal;color:#000;">U16AA Invited</div>
<div class="t" style="left:187.05px;width:600px;text-align:center;top:457.38px;font-size:7.55px;font-weight:normal;color:#000;">$300.00</div>
<div class="t" style="left:246.20000000000005px;width:600px;text-align:center;top:457.38px;font-size:7.55px;font-weight:normal;color:#000;">$1,540.00</div>
<div class="t" style="left:311.35px;width:600px;text-align:center;top:457.38px;font-size:7.55px;font-weight:normal;color:#000;">$2,750.00</div>
<div class="t" style="left:375.4px;width:600px;text-align:center;top:457.38px;font-size:7.55px;font-weight:normal;color:#000;">$2,750.00</div>
<div class="t" style="left:432.29999999999995px;width:600px;text-align:center;top:457.38px;font-size:7.55px;font-weight:bold;color:#fff;-webkit-text-stroke:0px currentColor;">$3,050.00</div>
<div class="t" style="left:765px;top:457.28px;font-size:7.55px;font-weight:normal;color:#cc0000;-webkit-text-stroke:0;">**</div>
<div class="t" style="left:-132px;width:300px;text-align:right;top:469.58px;font-size:7.55px;font-weight:normal;color:#000;">U16AA Committed</div>
<div class="t" style="left:-100.80000000000001px;width:600px;text-align:center;top:469.58px;font-size:7.55px;font-weight:normal;color:#777777;">$210.00</div>
<div class="t" style="left:-44.75px;width:600px;text-align:center;top:469.58px;font-size:7.55px;font-weight:normal;color:#777777;">$52.50</div>
<div class="t" style="left:10.449999999999989px;width:600px;text-align:center;top:469.58px;font-size:7.55px;font-weight:normal;color:#777777;">$52.50</div>
<div class="t" style="left:69.39999999999998px;width:600px;text-align:center;top:469.58px;font-size:7.55px;font-weight:normal;color:#777777;">$52.50</div>
<div class="t" style="left:128.45px;width:600px;text-align:center;top:469.58px;font-size:7.55px;font-weight:normal;color:#777777;">$52.50</div>
<div class="t" style="left:187.05px;width:600px;text-align:center;top:469.58px;font-size:7.55px;font-weight:normal;color:#000;">$300.00</div>
<div class="t" style="left:246.20000000000005px;width:600px;text-align:center;top:469.58px;font-size:7.55px;font-weight:normal;color:#000;">$1,540.00</div>
<div class="t" style="left:375.4px;width:600px;text-align:center;top:469.58px;font-size:7.55px;font-weight:normal;color:#000;">$2,750.00</div>
<div class="t" style="left:432.29999999999995px;width:600px;text-align:center;top:469.58px;font-size:7.55px;font-weight:bold;color:#fff;-webkit-text-stroke:0px currentColor;">$3,050.00</div>
<div class="t" style="left:765px;top:470.08px;font-size:7.55px;font-weight:normal;color:#cc0000;-webkit-text-stroke:0;">**</div>
<div class="t" style="left:-132px;width:300px;text-align:right;top:482.18px;font-size:7.55px;font-weight:normal;color:#000;">U17 AAA</div>
<div class="t" style="left:187.05px;width:600px;text-align:center;top:482.18px;font-size:7.55px;font-weight:normal;color:#000;">$350.00</div>
<div class="t" style="left:282px;width:600px;text-align:center;top:482.18px;font-size:7.55px;font-weight:normal;color:#000;">paid to team</div>
<div class="t" style="left:375.4px;width:600px;text-align:center;top:482.18px;font-size:7.55px;font-weight:normal;color:#000;">$10,950.00</div>
<div class="t" style="left:432.29999999999995px;width:600px;text-align:center;top:482.18px;font-size:7.55px;font-weight:bold;color:#fff;-webkit-text-stroke:0px currentColor;">$13,150.00</div>
<div class="t" style="left:765px;top:481.48px;font-size:7.55px;font-weight:normal;color:#000;">approximately</div>
<div class="t" style="left:-132px;width:300px;text-align:right;top:494.28px;font-size:7.55px;font-weight:normal;color:#000;">U18AA Female Invited</div>
<div class="t" style="left:187.05px;width:600px;text-align:center;top:494.28px;font-size:7.55px;font-weight:normal;color:#000;">$300.00</div>
<div class="t" style="left:246.20000000000005px;width:600px;text-align:center;top:494.28px;font-size:7.55px;font-weight:normal;color:#000;">$1,590.00</div>
<div class="t" style="left:311.35px;width:600px;text-align:center;top:494.28px;font-size:7.55px;font-weight:normal;color:#000;">$2,750.00</div>
<div class="t" style="left:375.4px;width:600px;text-align:center;top:494.28px;font-size:7.55px;font-weight:normal;color:#000;">$2,750.00</div>
<div class="t" style="left:432.29999999999995px;width:600px;text-align:center;top:494.28px;font-size:7.55px;font-weight:bold;color:#fff;-webkit-text-stroke:0px currentColor;">$3,050.00</div>
<div class="t" style="left:765px;top:494.18px;font-size:7.55px;font-weight:normal;color:#cc0000;-webkit-text-stroke:0;">**</div>
<div class="t" style="left:-132px;width:300px;text-align:right;top:506.33px;font-size:7.55px;font-weight:normal;color:#000;">U18AA Female Committed</div>
<div class="t" style="left:-100.80000000000001px;width:600px;text-align:center;top:506.33px;font-size:7.55px;font-weight:normal;color:#777777;">$160.00</div>
<div class="t" style="left:-44.75px;width:600px;text-align:center;top:506.33px;font-size:7.55px;font-weight:normal;color:#777777;">$40.00</div>
<div class="t" style="left:10.449999999999989px;width:600px;text-align:center;top:506.33px;font-size:7.55px;font-weight:normal;color:#777777;">$40.00</div>
<div class="t" style="left:69.39999999999998px;width:600px;text-align:center;top:506.33px;font-size:7.55px;font-weight:normal;color:#777777;">$40.00</div>
<div class="t" style="left:128.45px;width:600px;text-align:center;top:506.33px;font-size:7.55px;font-weight:normal;color:#777777;">$40.00</div>
<div class="t" style="left:187.05px;width:600px;text-align:center;top:506.33px;font-size:7.55px;font-weight:normal;color:#000;">$300.00</div>
<div class="t" style="left:246.20000000000005px;width:600px;text-align:center;top:506.33px;font-size:7.55px;font-weight:normal;color:#000;">$1,590.00</div>
<div class="t" style="left:375.4px;width:600px;text-align:center;top:506.33px;font-size:7.55px;font-weight:normal;color:#000;">$2,750.00</div>
<div class="t" style="left:432.29999999999995px;width:600px;text-align:center;top:506.33px;font-size:7.55px;font-weight:bold;color:#fff;-webkit-text-stroke:0px currentColor;">$3,050.00</div>
<div class="t" style="left:765px;top:506.78px;font-size:7.55px;font-weight:normal;color:#cc0000;-webkit-text-stroke:0;">**</div>
<div class="t" style="left:-132px;width:300px;text-align:right;top:519.13px;font-size:7.55px;font-weight:normal;color:#000;">U18AA Invited</div>
<div class="t" style="left:187.05px;width:600px;text-align:center;top:519.13px;font-size:7.55px;font-weight:normal;color:#000;">$300.00</div>
<div class="t" style="left:246.20000000000005px;width:600px;text-align:center;top:519.13px;font-size:7.55px;font-weight:normal;color:#000;">$1,490.00</div>
<div class="t" style="left:311.35px;width:600px;text-align:center;top:519.13px;font-size:7.55px;font-weight:normal;color:#000;">$2,700.00</div>
<div class="t" style="left:375.4px;width:600px;text-align:center;top:519.13px;font-size:7.55px;font-weight:normal;color:#000;">$2,700.00</div>
<div class="t" style="left:432.29999999999995px;width:600px;text-align:center;top:519.13px;font-size:7.55px;font-weight:bold;color:#fff;-webkit-text-stroke:0px currentColor;">$3,000.00</div>
<div class="t" style="left:765px;top:518.88px;font-size:7.55px;font-weight:normal;color:#cc0000;-webkit-text-stroke:0;">**</div>
<div class="t" style="left:-132px;width:300px;text-align:right;top:531.23px;font-size:7.55px;font-weight:normal;color:#000;">U18AA Committed</div>
<div class="t" style="left:-100.80000000000001px;width:600px;text-align:center;top:531.23px;font-size:7.55px;font-weight:normal;color:#777777;">$210.00</div>
<div class="t" style="left:-44.75px;width:600px;text-align:center;top:531.23px;font-size:7.55px;font-weight:normal;color:#777777;">$52.50</div>
<div class="t" style="left:10.449999999999989px;width:600px;text-align:center;top:531.23px;font-size:7.55px;font-weight:normal;color:#777777;">$52.50</div>
<div class="t" style="left:69.39999999999998px;width:600px;text-align:center;top:531.23px;font-size:7.55px;font-weight:normal;color:#777777;">$52.50</div>
<div class="t" style="left:128.45px;width:600px;text-align:center;top:531.23px;font-size:7.55px;font-weight:normal;color:#777777;">$52.50</div>
<div class="t" style="left:187.05px;width:600px;text-align:center;top:531.23px;font-size:7.55px;font-weight:normal;color:#000;">$300.00</div>
<div class="t" style="left:246.20000000000005px;width:600px;text-align:center;top:531.23px;font-size:7.55px;font-weight:normal;color:#000;">$1,490.00</div>
<div class="t" style="left:375.4px;width:600px;text-align:center;top:531.23px;font-size:7.55px;font-weight:normal;color:#000;">$2,700.00</div>
<div class="t" style="left:432.29999999999995px;width:600px;text-align:center;top:531.23px;font-size:7.55px;font-weight:bold;color:#fff;-webkit-text-stroke:0px currentColor;">$3,000.00</div>
<div class="t" style="left:765px;top:530.98px;font-size:7.55px;font-weight:normal;color:#cc0000;-webkit-text-stroke:0;">**</div>
<div class="t" style="left:-132px;width:300px;text-align:right;top:542.18px;font-size:7.55px;font-weight:normal;color:#000;">U18 AAA</div>
<div class="t" style="left:187.05px;width:600px;text-align:center;top:542.18px;font-size:7.55px;font-weight:normal;color:#000;">$350.00</div>
<div class="t" style="left:282px;width:600px;text-align:center;top:542.18px;font-size:7.55px;font-weight:normal;color:#000;">paid to team</div>
<div class="t" style="left:375.4px;width:600px;text-align:center;top:542.18px;font-size:7.55px;font-weight:normal;color:#000;">$10,950.00</div>
<div class="t" style="left:432.29999999999995px;width:600px;text-align:center;top:542.18px;font-size:7.55px;font-weight:bold;color:#fff;-webkit-text-stroke:0px currentColor;">$11,300.00</div>
<div class="t" style="left:765px;top:542.58px;font-size:7.55px;font-weight:normal;color:#000;">approximately</div>
<div class="t" style="left:-188.0px;width:600px;text-align:center;top:84.48px;font-size:7.55px;font-weight:bold;color:#000;-webkit-text-stroke:0px currentColor;">Division (Age as of 12/31/2025)</div>
<div class="t" style="left:-101.70000000000002px;width:600px;text-align:center;top:66.88px;font-size:7.55px;font-weight:bold;color:#fff;-webkit-text-stroke:0px currentColor;">Mandatory</div>
<div class="t" style="left:-100.80000000000001px;width:600px;text-align:center;top:75.68px;font-size:7.55px;font-weight:bold;color:#fff;-webkit-text-stroke:0px currentColor;">Base Fee</div>
<div class="t" style="left:-100.80000000000001px;width:600px;text-align:center;top:84.48px;font-size:7.55px;font-weight:bold;color:#fff;-webkit-text-stroke:0px currentColor;">(AMHA</div>
<div class="t" style="left:-100.80000000000001px;width:600px;text-align:center;top:93.18px;font-size:7.55px;font-weight:bold;color:#fff;-webkit-text-stroke:0px currentColor;">Member Only)</div>
<div class="t" style="left:-45.349999999999994px;width:600px;text-align:center;top:75.68px;font-size:7.55px;font-weight:bold;color:#fff;-webkit-text-stroke:0px currentColor;">Payment 1</div>
<div class="t" style="left:-45.349999999999994px;width:600px;text-align:center;top:84.48px;font-size:7.55px;font-weight:bold;color:#fff;-webkit-text-stroke:0px currentColor;">Due on</div>
<div class="t" style="left:-44.650000000000006px;width:600px;text-align:center;top:93.18px;font-size:7.55px;font-weight:bold;color:#fff;-webkit-text-stroke:0px currentColor;">Registration</div>
<div class="t" style="left:10.449999999999989px;width:600px;text-align:center;top:75.68px;font-size:7.55px;font-weight:bold;color:#fff;-webkit-text-stroke:0px currentColor;">Payment 2</div>
<div class="t" style="left:10.449999999999989px;width:600px;text-align:center;top:93.18px;font-size:7.55px;font-weight:bold;color:#fff;-webkit-text-stroke:0px currentColor;">June 15th</div>
<div class="t" style="left:69.39999999999998px;width:600px;text-align:center;top:75.68px;font-size:7.55px;font-weight:bold;color:#fff;-webkit-text-stroke:0px currentColor;">Payment 3</div>
<div class="t" style="left:69.39999999999998px;width:600px;text-align:center;top:93.18px;font-size:7.55px;font-weight:bold;color:#fff;-webkit-text-stroke:0px currentColor;">July 15th</div>
<div class="t" style="left:128.45px;width:600px;text-align:center;top:75.68px;font-size:7.55px;font-weight:bold;color:#fff;-webkit-text-stroke:0px currentColor;">Payment 4</div>
<div class="t" style="left:128.45px;width:600px;text-align:center;top:93.18px;font-size:7.55px;font-weight:bold;color:#fff;-webkit-text-stroke:0px currentColor;">August 15th</div>
<div class="t" style="left:186.55px;width:600px;text-align:center;top:75.68px;font-size:7.55px;font-weight:bold;color:#000;-webkit-text-stroke:0px currentColor;">Evaluation /</div>
<div class="t" style="left:186.55px;width:600px;text-align:center;top:84.48px;font-size:7.55px;font-weight:bold;color:#000;-webkit-text-stroke:0px currentColor;">Tryout Fee</div>
<div class="t" style="left:186.55px;width:600px;text-align:center;top:93.18px;font-size:7.55px;font-weight:bold;color:#000;-webkit-text-stroke:0px currentColor;">2025</div>
<div class="t" style="left:246.20000000000005px;width:600px;text-align:center;top:75.68px;font-size:7.55px;font-weight:bold;color:#000;-webkit-text-stroke:0px currentColor;">AMHA Member</div>
<div class="t" style="left:246.20000000000005px;width:600px;text-align:center;top:84.48px;font-size:7.55px;font-weight:bold;color:#000;-webkit-text-stroke:0px currentColor;">November 1st</div>
<div class="t" style="left:246.20000000000005px;width:600px;text-align:center;top:93.18px;font-size:7.55px;font-weight:bold;color:#000;-webkit-text-stroke:0px currentColor;">Payment</div>
<div class="t" style="left:311.35px;width:600px;text-align:center;top:75.68px;font-size:7.55px;font-weight:bold;color:#000;-webkit-text-stroke:0px currentColor;">Drawzone Member</div>
<div class="t" style="left:311.35px;width:600px;text-align:center;top:84.48px;font-size:7.55px;font-weight:bold;color:#000;-webkit-text-stroke:0px currentColor;">November 1st</div>
<div class="t" style="left:311.35px;width:600px;text-align:center;top:93.18px;font-size:7.55px;font-weight:bold;color:#000;-webkit-text-stroke:0px currentColor;">Payment</div>
<div class="t" style="left:375.4px;width:600px;text-align:center;top:84.48px;font-size:7.55px;font-weight:bold;color:#000;-webkit-text-stroke:0px currentColor;">Program Cost</div>
<div class="t" style="left:431.29999999999995px;width:600px;text-align:center;top:75.68px;font-size:7.55px;font-weight:bold;color:#fff;-webkit-text-stroke:0px currentColor;">Total Cost,</div>
<div class="t" style="left:430.79999999999995px;width:600px;text-align:center;top:84.48px;font-size:7.55px;font-weight:bold;color:#fff;-webkit-text-stroke:0px currentColor;">including</div>
<div class="t" style="left:432.29999999999995px;width:600px;text-align:center;top:93.18px;font-size:7.55px;font-weight:bold;color:#fff;-webkit-text-stroke:0px currentColor;">Tryout Fee</div>
<div class="t" style="left:107.5px;width:600px;text-align:center;top:54.42px;font-size:8.3px;font-weight:bold;color:#fff;-webkit-text-stroke:0px currentColor;">2025-26 Divisional Base Fee and Payment Schedule</div>
<div class="t" style="left:137px;width:600px;text-align:center;top:567.57px;font-size:7.6px;font-weight:normal;color:#cc0000;">** All AA team final payments are approximate and will be finalized prior to start of season</div>
</div></body></html>
